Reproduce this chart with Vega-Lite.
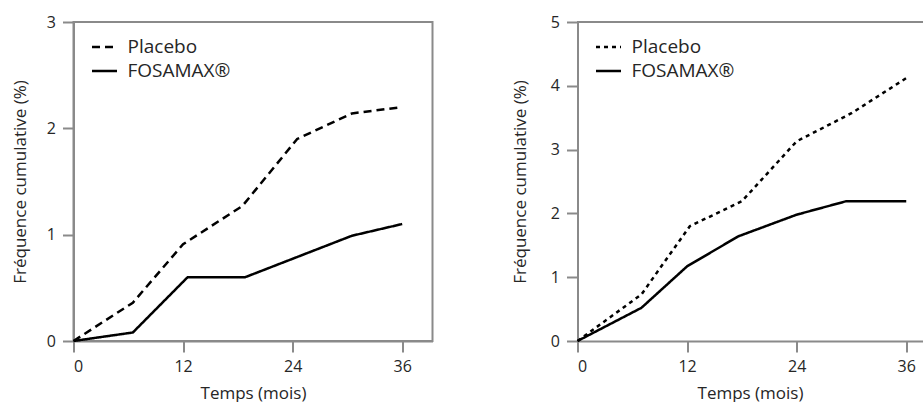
{
  "$schema": "https://vega.github.io/schema/vega-lite/v6.json",
  "background": "white",
  "padding": {"left": 9.5, "top": 13, "right": 0, "bottom": 0},
  "spacing": 77,
  "config": {
    "font": "Open Sans",
    "view": {"stroke": "#8a8a8a", "strokeWidth": 2},
    "axis": {
      "domainColor": "#8a8a8a", "domainWidth": 2,
      "tickColor": "#8a8a8a", "tickWidth": 2, "tickSize": 11,
      "labelFontSize": 16, "labelColor": "#262626", "format": "d",
      "titleFontSize": 17, "titleFontWeight": "normal", "titleColor": "#262626",
      "grid": false
    },
    "axisX": {"labelPadding": 6, "titlePadding": 11},
    "axisY": {"labelPadding": 7},
    "legend": {
      "orient": "none", "legendX": 17, "legendY": 11, "title": null,
      "symbolType": "stroke", "symbolSize": 625, "symbolStrokeWidth": 2.5,
      "symbolStrokeColor": "black", "labelFontSize": 19, "labelColor": "#262626",
      "labelOffset": 9, "rowPadding": -5, "padding": 0
    }
  },
  "resolve": {"scale": {"strokeDash": "independent"}, "legend": {"strokeDash": "independent"}},
  "hconcat": [
    {
      "width": 359,
      "height": 319,
      "data": {"values": [
        {"groupe": "Placebo", "mois": 0, "freq": 0},
        {"groupe": "Placebo", "mois": 6.5, "freq": 0.36},
        {"groupe": "Placebo", "mois": 12, "freq": 0.91},
        {"groupe": "Placebo", "mois": 18.5, "freq": 1.27},
        {"groupe": "Placebo", "mois": 24.5, "freq": 1.9},
        {"groupe": "Placebo", "mois": 30.5, "freq": 2.14},
        {"groupe": "Placebo", "mois": 36, "freq": 2.2},
        {"groupe": "FOSAMAX®", "mois": 0, "freq": 0},
        {"groupe": "FOSAMAX®", "mois": 6.5, "freq": 0.08},
        {"groupe": "FOSAMAX®", "mois": 12.5, "freq": 0.6},
        {"groupe": "FOSAMAX®", "mois": 18.8, "freq": 0.6},
        {"groupe": "FOSAMAX®", "mois": 30.5, "freq": 0.99},
        {"groupe": "FOSAMAX®", "mois": 36, "freq": 1.1}
      ]},
      "mark": {"type": "line", "color": "black", "strokeWidth": 2.5},
      "encoding": {
        "x": {"field": "mois", "type": "quantitative",
          "scale": {"domain": [0, 39.32], "nice": false},
          "axis": {"values": [0, 12, 24, 36], "title": "Temps (mois)"}},
        "y": {"field": "freq", "type": "quantitative",
          "scale": {"domain": [0, 3], "nice": false},
          "axis": {"values": [0, 1, 2, 3], "title": "Fréquence cumulative (%)", "titlePadding": 17}},
        "strokeDash": {"field": "groupe", "type": "nominal",
          "scale": {"domain": ["Placebo", "FOSAMAX®"], "range": [[8, 5], [1, 0]]}}
      }
    },
    {
      "width": 345,
      "height": 319,
      "view": {"stroke": null},
      "data": {"values": [
        {"groupe": "Placebo", "mois": 0, "freq": 0},
        {"groupe": "Placebo", "mois": 7, "freq": 0.73},
        {"groupe": "Placebo", "mois": 12.3, "freq": 1.8},
        {"groupe": "Placebo", "mois": 18, "freq": 2.19},
        {"groupe": "Placebo", "mois": 24, "freq": 3.13},
        {"groupe": "Placebo", "mois": 30, "freq": 3.57},
        {"groupe": "Placebo", "mois": 36, "freq": 4.12},
        {"groupe": "FOSAMAX®", "mois": 0, "freq": 0},
        {"groupe": "FOSAMAX®", "mois": 7, "freq": 0.52},
        {"groupe": "FOSAMAX®", "mois": 12, "freq": 1.17},
        {"groupe": "FOSAMAX®", "mois": 17.6, "freq": 1.64},
        {"groupe": "FOSAMAX®", "mois": 24, "freq": 1.98},
        {"groupe": "FOSAMAX®", "mois": 29.4, "freq": 2.19},
        {"groupe": "FOSAMAX®", "mois": 36, "freq": 2.19}
      ]},
      "layer": [
        {
          "mark": {"type": "line", "color": "black", "strokeWidth": 2.5},
          "encoding": {
            "x": {"field": "mois", "type": "quantitative",
              "scale": {"domain": [0, 37.78], "nice": false},
              "axis": {"values": [0, 12, 24, 36], "title": "Temps (mois)"}},
            "y": {"field": "freq", "type": "quantitative",
              "scale": {"domain": [0, 5], "nice": false},
              "axis": {"values": [0, 1, 2, 3, 4, 5], "title": "Fréquence cumulative (%)", "titlePadding": 21}},
            "strokeDash": {"field": "groupe", "type": "nominal",
              "scale": {"domain": ["Placebo", "FOSAMAX®"], "range": [[4, 4], [1, 0]]}}
          }
        },
        {
          "mark": {"type": "rule", "color": "#8a8a8a", "strokeWidth": 2},
          "encoding": {"y": {"datum": 5}}
        }
      ]
    }
  ]
}
